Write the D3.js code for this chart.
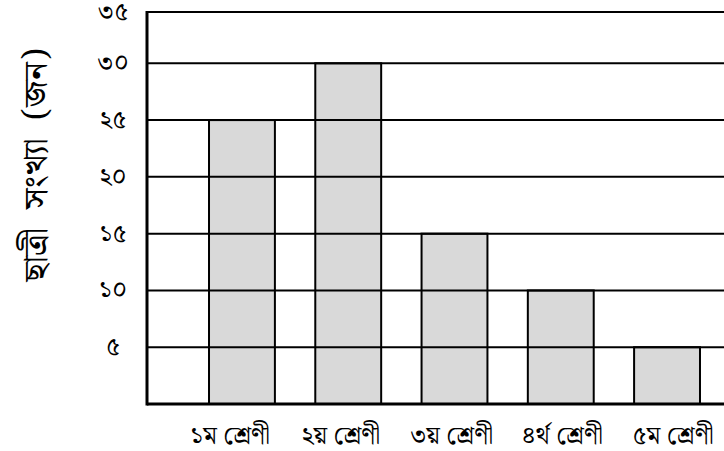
<!DOCTYPE html>
<html>
<head>
<meta charset="utf-8">
<script src="https://cdn.jsdelivr.net/npm/d3@7"></script>
<style>
  body { margin: 0; background: #fff; }
  text { font-family: "Noto Serif Bengali", "Noto Sans Bengali", "Lohit Bengali", "FreeSerif", serif; fill: #000; }
</style>
</head>
<body>
<script>
(function() {
  var categories = ['১ম শ্রেণী', '২য় শ্রেণী', '৩য় শ্রেণী', '৪র্থ শ্রেণী', '৫ম শ্রেণী'];
  var students = [25, 30, 15, 10, 5];
  var tickValues = [5, 10, 15, 20, 25, 30, 35];
  var tickLabels = ['৫', '১০', '১৫', '২০', '২৫', '৩০', '৩৫'];
  var yTitle = 'ছাত্রী সংখ্যা (জন)';

  var width = 724, height = 451;
  var left = 147, right = 724, top = 12, bottom = 404;

  var svg = d3.select('body').append('svg').attr('width', width).attr('height', height);

  // the top frame line sits a little below where 35 would fall
  var y = d3.scaleLinear().domain([0, 30]).range([bottom, 63.3]);
  var yPos = function(d) { return Math.max(y(d), top); };

  var x = d3.scaleBand().domain(categories).range([left, 762])
    .paddingInner(0.38).paddingOuter(0.5835);
  var xLabel = d3.scalePoint().domain(categories).range([230, 673]);

  // bars
  svg.selectAll('rect.bar').data(students).enter().append('rect')
    .attr('class', 'bar')
    .attr('x', function(d, i) { return x(categories[i]); })
    .attr('y', function(d) { return y(d); })
    .attr('width', x.bandwidth())
    .attr('height', function(d) { return y(0) - y(d); })
    .attr('fill', '#d9d9d9')
    .attr('stroke', '#000')
    .attr('stroke-width', 2);

  // grid lines, drawn over the bars
  svg.selectAll('line.grid').data(tickValues).enter().append('line')
    .attr('class', 'grid')
    .attr('x1', left).attr('x2', right)
    .attr('y1', yPos)
    .attr('y2', yPos)
    .attr('stroke', '#000')
    .attr('stroke-width', 2);

  // axis lines
  svg.append('line').attr('x1', left).attr('x2', left).attr('y1', top - 1).attr('y2', y(0) + 1.5)
    .attr('stroke', '#000').attr('stroke-width', 3);
  svg.append('line').attr('x1', left).attr('x2', right).attr('y1', y(0)).attr('y2', y(0))
    .attr('stroke', '#000').attr('stroke-width', 3);

  // y tick labels
  svg.selectAll('text.ytick').data(tickValues).enter().append('text')
    .attr('class', 'ytick')
    .attr('x', 113)
    .attr('y', function(d) { return yPos(d) + 8; })
    .attr('text-anchor', 'middle')
    .style('font-size', '25px')
    .text(function(d, i) { return tickLabels[i]; });

  // x labels
  svg.selectAll('text.xlab').data(categories).enter().append('text')
    .attr('class', 'xlab')
    .attr('x', function(d) { return xLabel(d); })
    .attr('y', 444)
    .attr('text-anchor', 'middle')
    .style('font-size', '25px')
    .text(function(d) { return d; });

  // y title
  svg.append('text')
    .attr('transform', 'translate(47,165) rotate(-90)')
    .attr('text-anchor', 'middle')
    .style('font-size', '34px')
    .style('word-spacing', '10px')
    .text(yTitle);
}).call(this);
</script>
</body>
</html>
